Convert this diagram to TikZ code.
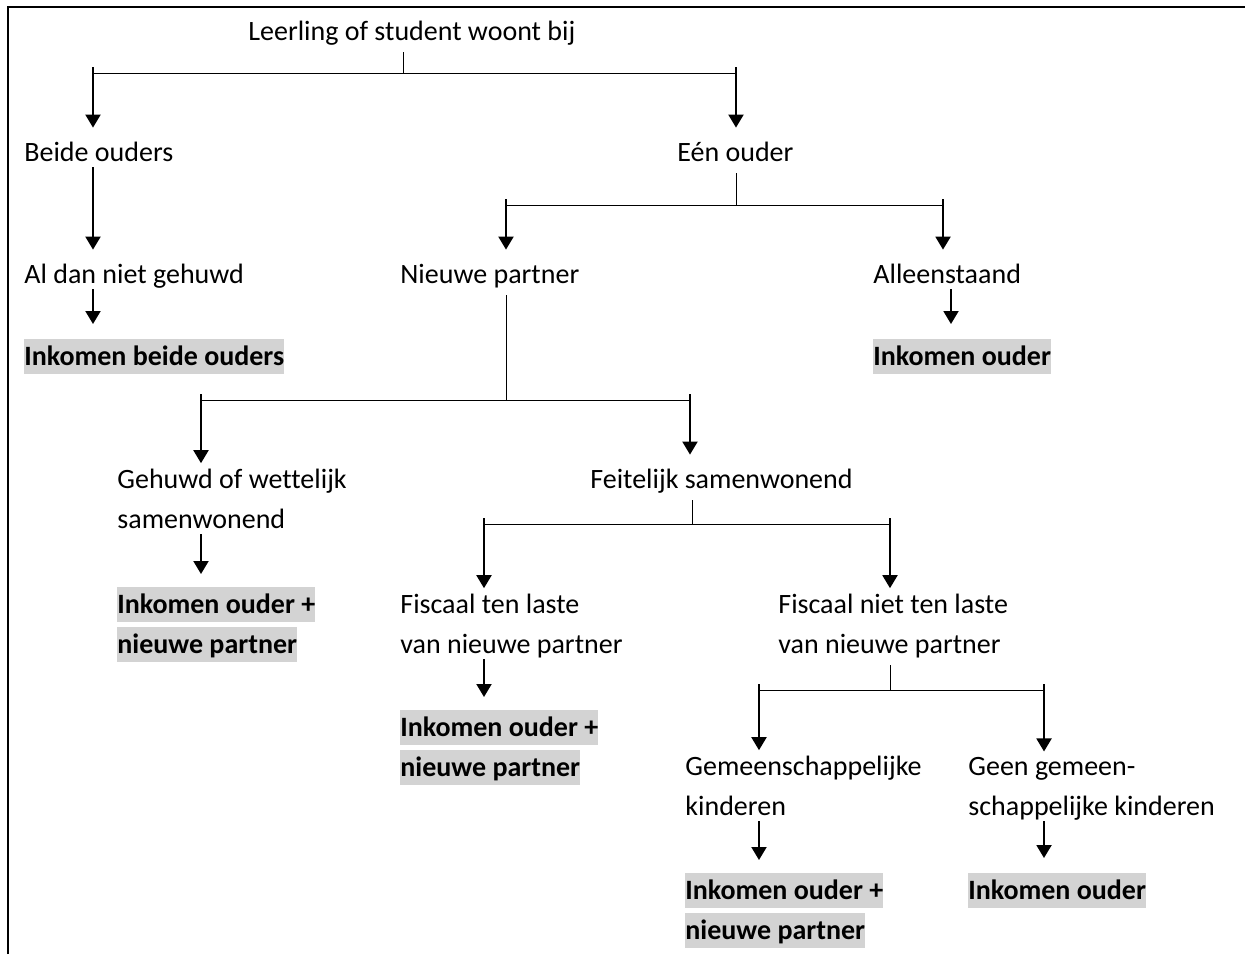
\documentclass[tikz,border=0pt]{standalone}
\usepackage{fontspec}
\setmainfont[Ligatures=NoCommon]{Carlito}
\usetikzlibrary{arrows.meta}
\definecolor{hlgrey}{RGB}{211,211,211}
\newcommand{\hl}[1]{{\setlength{\fboxsep}{0pt}\colorbox{hlgrey}{\rule[-4.5pt]{0pt}{17.5pt}#1}}}
\tikzset{txt/.style={anchor=base west, inner sep=0pt, align=left,
                     font=\fontsize{14}{20}\selectfont, execute at begin node=\strut, execute at end node=\strut},
         res/.style={txt, font=\fontsize{14}{20}\selectfont\bfseries, outer ysep=4pt},
         stem/.style={line width=0.5pt},
         arr/.style={line width=1pt, -{Triangle[width=7.5pt,length=6.5pt]}, shorten >=2.5pt, shorten <=-3pt}}

\begin{document}
\begin{tikzpicture}[x=0.5pt, y=-0.5pt]
    \useasboundingbox (0,0) rectangle (1245,954);
    \draw[line width=1pt] (8,954) -- (8,7) -- (1245,7);

    % nodes (two-line nodes sit on the baseline of their last line)
    \node[txt] (root) at (248,40) {Leerling of student woont bij};
    \node[txt] (beide) at (24,161) {Beide ouders};
    \node[txt] (een) at (677,161) {Eén ouder};
    \node[txt] (aldan) at (24,283) {Al dan niet gehuwd};
    \node[txt] (nieuw) at (400,283) {Nieuwe partner};
    \node[txt] (alleen) at (873,283) {Alleenstaand};
    \node[res] (incbeide) at (24,365) {\hl{Inkomen beide ouders}};
    \node[res] (incouder) at (873,365) {\hl{Inkomen ouder}};
    \node[txt] (wettelijk) at (117,528) {Gehuwd of wettelijk\\samenwonend};
    \node[txt] (feitelijk) at (590,488) {Feitelijk samenwonend};
    \node[res] (incwet) at (117,653) {\hl{Inkomen ouder +}\\\hl{nieuwe partner}};
    \node[txt] (fiscten) at (400,653) {Fiscaal ten laste\\van nieuwe partner};
    \node[txt] (fiscniet) at (778,653) {Fiscaal niet ten laste\\van nieuwe partner};
    \node[res] (incfisc) at (400,776) {\hl{Inkomen ouder +}\\\hl{nieuwe partner}};
    \node[txt] (gemeen) at (685,815) {Gemeenschappelijke\\kinderen};
    \node[txt] (geen) at (968,815) {Geen gemeen-\\schappelijke kinderen};
    \node[res] (incgemeen) at (685,939) {\hl{Inkomen ouder +}\\\hl{nieuwe partner}};
    \node[res] (incgeen) at (968,899) {\hl{Inkomen ouder}};

    % junctions
    \coordinate (j1) at (403,73);  \coordinate (j1l) at (93,73);   \coordinate (j1r) at (736,73);
    \coordinate (j2) at (736,205); \coordinate (j2l) at (506,205); \coordinate (j2r) at (943,205);
    \coordinate (j3) at (506,400); \coordinate (j3l) at (201,400); \coordinate (j3r) at (690,400);
    \coordinate (j4) at (692,524); \coordinate (j4l) at (484,524); \coordinate (j4r) at (890,524);
    \coordinate (j5) at (890,690); \coordinate (j5l) at (759,690); \coordinate (j5r) at (1044,690);
    \coordinate (a1) at (951,0);

    % connectors
    \draw[stem] (root.south -| j1) -- (j1) (j1l) -- (j1r);
    \draw[arr] (j1l) -- (beide.north -| j1l);
    \draw[arr] (j1r) -- (een.north -| j1r);
    \draw[arr] (beide.south -| j1l) -- (aldan.north -| j1l);
    \draw[arr] (aldan.south -| j1l) -- (incbeide.north -| j1l);

    \draw[stem] (een.south -| j2) -- (j2) (j2l) -- (j2r);
    \draw[arr] (j2l) -- (nieuw.north -| j2l);
    \draw[arr] (j2r) -- (alleen.north -| j2r);
    \draw[arr] (alleen.south -| a1) -- (incouder.north -| a1);

    \draw[stem] (nieuw.south -| j3) -- (j3) (j3l) -- (j3r);
    \draw[arr] (j3l) -- (wettelijk.north -| j3l);
    \draw[arr] (j3r) -- (feitelijk.north -| j3r);
    \draw[arr] (wettelijk.south -| j3l) -- (incwet.north -| j3l);

    \draw[stem] (feitelijk.south -| j4) -- (j4) (j4l) -- (j4r);
    \draw[arr] (j4l) -- (fiscten.north -| j4l);
    \draw[arr] (j4r) -- (fiscniet.north -| j4r);
    \draw[arr] (fiscten.south -| j4l) -- (incfisc.north -| j4l);

    \draw[stem] (fiscniet.south -| j5) -- (j5) (j5l) -- (j5r);
    \draw[arr] (j5l) -- (gemeen.north -| j5l);
    \draw[arr] (j5r) -- (geen.north -| j5r);
    \draw[arr] (gemeen.south -| j5l) -- (incgemeen.north -| j5l);
    \draw[arr] (geen.south -| j5r) -- (incgeen.north -| j5r);
\end{tikzpicture}
\end{document}
